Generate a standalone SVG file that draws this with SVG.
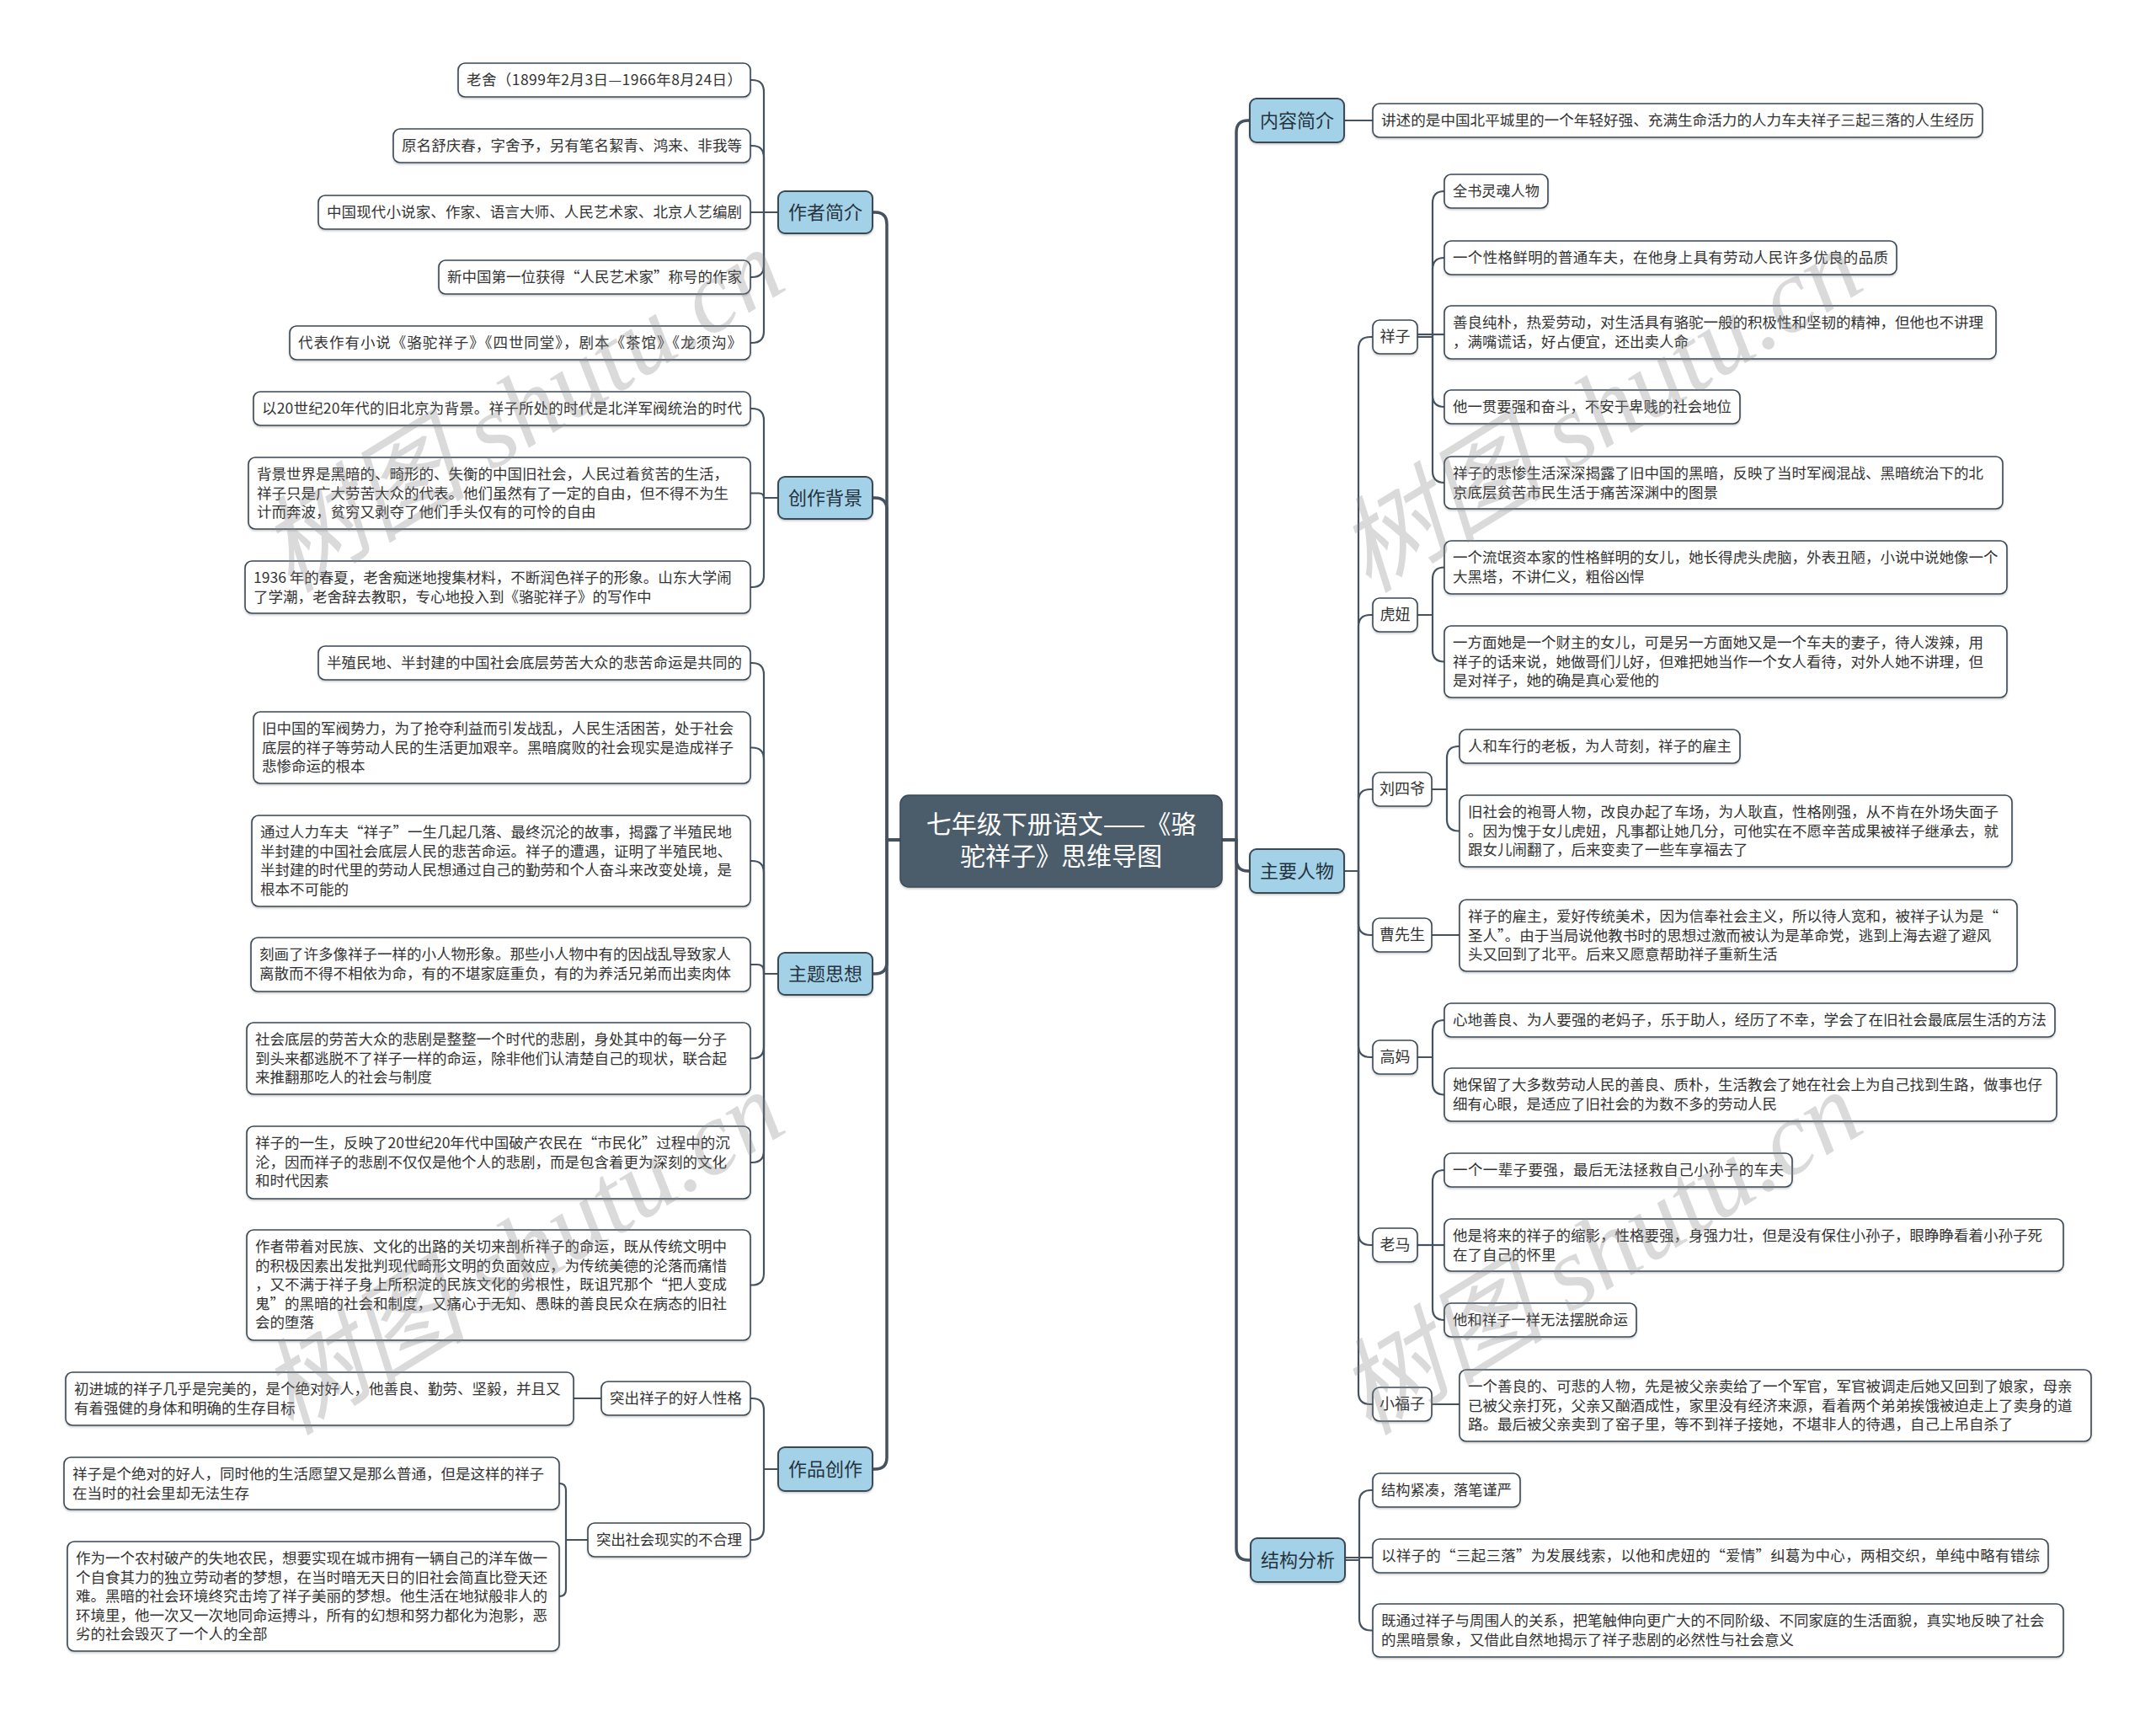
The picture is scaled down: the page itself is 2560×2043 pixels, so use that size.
<svg xmlns="http://www.w3.org/2000/svg" width="2560" height="2043" viewBox="0 0 2560 2043">
<style>
.box{fill:#fff;stroke:#3b4855;stroke-width:1.6;filter:url(#sh)}
.l1{fill:#a3d2e8;stroke:#3b4855;stroke-width:2;filter:url(#sh)}
.root{fill:#4c5c6b;stroke:#3b4855;stroke-width:1.5;filter:url(#sh)}
.t{font-family:'Noto Sans CJK SC','Noto Sans',sans-serif;font-size:17.5px;fill:#333}
.t1{font-family:'Noto Sans CJK SC','Noto Sans',sans-serif;font-size:22px;fill:#26323d;text-anchor:middle}
.t2{font-family:'Noto Sans CJK SC','Noto Sans',sans-serif;font-size:18px;fill:#333;text-anchor:middle}
.tr{font-family:'Noto Sans CJK SC','Noto Sans',sans-serif;font-size:30px;fill:#fff;text-anchor:middle}
.c{fill:none;stroke:#45525f;stroke-width:2.2;stroke-linejoin:round}
.c0{fill:none;stroke:#45525f;stroke-width:3.5;stroke-linejoin:round}
.wm{font-family:'Liberation Serif','Noto Sans CJK SC',serif;font-style:italic;font-size:124px;fill:#888;opacity:0.3}
</style>
<defs>
<filter id="sh" x="-5%" y="-20%" width="110%" height="150%">
<feDropShadow dx="0" dy="1.5" stdDeviation="1" flood-color="#000" flood-opacity="0.22"/>
</filter>
</defs>
<rect width="2560" height="2043" fill="#fff"/>
<g id="connectors">
<path class="c0" d="M1069 997 H1053 V266 Q1053 252 1039 252 H1036"/>
<path class="c0" d="M1069 997 H1053 V605 Q1053 591 1039 591 H1036"/>
<path class="c0" d="M1069 997 H1053 V1142 Q1053 1156 1039 1156 H1036"/>
<path class="c0" d="M1069 997 H1053 V1730 Q1053 1744 1039 1744 H1036"/>
<path class="c0" d="M1451 997 H1468 V157 Q1468 143 1482 143 H1484"/>
<path class="c0" d="M1451 997 H1468 V1020 Q1468 1034 1482 1034 H1484"/>
<path class="c0" d="M1451 997 H1468 V1838 Q1468 1852 1482 1852 H1485"/>
<path class="c" d="M924 252 H907 V109 Q907 95 893 95 H891"/>
<path class="c" d="M924 252 H907 V187 Q907 173 893 173 H891"/>
<path class="c" d="M924 252 H891"/>
<path class="c" d="M924 252 H907 V315 Q907 329 893 329 H891"/>
<path class="c" d="M924 252 H907 V393 Q907 407 893 407 H891"/>
<path class="c" d="M924 591 H907 V499 Q907 485 893 485 H891"/>
<path class="c" d="M924 591 H907 Q907 585.5 901 585.5 H891"/>
<path class="c" d="M924 591 H907 V683 Q907 697 893 697 H891"/>
<path class="c" d="M924 1156 H907 V801 Q907 787 893 787 H891"/>
<path class="c" d="M924 1156 H907 V901.5 Q907 887.5 893 887.5 H891"/>
<path class="c" d="M924 1156 H907 V1036 Q907 1022 893 1022 H891"/>
<path class="c" d="M924 1156 H907 V1153 Q907 1145 899 1145 H891"/>
<path class="c" d="M924 1156 H907 V1242.5 Q907 1256.5 893 1256.5 H891"/>
<path class="c" d="M924 1156 H907 V1366 Q907 1380 893 1380 H891"/>
<path class="c" d="M924 1156 H907 V1511.5 Q907 1525.5 893 1525.5 H891"/>
<path class="c" d="M924 1744 H907 V1674 Q907 1660 893 1660 H890"/>
<path class="c" d="M924 1744 H907 V1814 Q907 1828 893 1828 H890"/>
<path class="c" d="M714 1660 H681"/>
<path class="c" d="M698 1828 H672 V1769 Q672 1761 664 1761"/>
<path class="c" d="M698 1828 H672 V1887 Q672 1895 664 1895"/>
<path class="c" d="M1596 143 H1630"/>
<path class="c" d="M1596 1034 H1613 V414 Q1613 400 1627 400 H1630"/>
<path class="c" d="M1596 1034 H1613 V744 Q1613 730 1627 730 H1630"/>
<path class="c" d="M1596 1034 H1613 V951 Q1613 937 1627 937 H1630"/>
<path class="c" d="M1596 1034 H1613 V1096 Q1613 1110 1627 1110 H1630"/>
<path class="c" d="M1596 1034 H1613 V1241 Q1613 1255 1627 1255 H1630"/>
<path class="c" d="M1596 1034 H1613 V1464 Q1613 1478 1627 1478 H1630"/>
<path class="c" d="M1596 1034 H1613 V1653 Q1613 1667 1627 1667 H1630"/>
<path class="c" d="M1683 400 H1701 V241 Q1701 227 1715 227"/>
<path class="c" d="M1683 400 H1701 V320 Q1701 306 1715 306"/>
<path class="c" d="M1683 397 H1715"/>
<path class="c" d="M1683 400 H1701 V469 Q1701 483 1715 483"/>
<path class="c" d="M1683 400 H1701 V559 Q1701 573 1715 573"/>
<path class="c" d="M1683 730 H1701 V687.5 Q1701 673.5 1715 673.5"/>
<path class="c" d="M1683 730 H1701 V771.5 Q1701 785.5 1715 785.5"/>
<path class="c" d="M1700 937 H1718 V900 Q1718 886 1732 886 H1733"/>
<path class="c" d="M1700 937 H1718 V972.5 Q1718 986.5 1732 986.5 H1733"/>
<path class="c" d="M1700 1110 H1733"/>
<path class="c" d="M1683 1255 H1701 V1225 Q1701 1211 1715 1211"/>
<path class="c" d="M1683 1255 H1701 V1285.5 Q1701 1299.5 1715 1299.5"/>
<path class="c" d="M1683 1478 H1701 V1403 Q1701 1389 1715 1389"/>
<path class="c" d="M1683 1478 H1715"/>
<path class="c" d="M1683 1478 H1701 V1553 Q1701 1567 1715 1567"/>
<path class="c" d="M1700 1667 H1733"/>
<path class="c" d="M1597 1852 H1614 V1783 Q1614 1769 1628 1769 H1630"/>
<path class="c" d="M1597 1849 H1630"/>
<path class="c" d="M1597 1852 H1614 V1921.5 Q1614 1935.5 1628 1935.5 H1630"/>
</g>

<g id="root">
<rect class="root" x="1069" y="944" width="382" height="109" rx="10"/>
<text class="tr" x="1260" y="989">七年级下册语文——《骆</text>
<text class="tr" x="1260" y="1027">驼祥子》思维导图</text>
</g>

<g id="n-author">
<rect class="l1" x="924" y="227" width="112" height="50" rx="8"/>
<text class="t1" x="980" y="260">作者简介</text>
</g>
<g id="a1"><rect class="box" x="544" y="75" width="347" height="40" rx="8"/><text class="t" x="554" y="101" textLength="327" lengthAdjust="spacing">老舍（1899年2月3日—1966年8月24日）</text></g>
<g id="a2"><rect class="box" x="467" y="153" width="424" height="40" rx="8"/><text class="t" x="477" y="179" textLength="404" lengthAdjust="spacing">原名舒庆春，字舍予，另有笔名絜青、鸿来、非我等</text></g>
<g id="a3"><rect class="box" x="378" y="232" width="513" height="40" rx="8"/><text class="t" x="388" y="258" textLength="493" lengthAdjust="spacing">中国现代小说家、作家、语言大师、人民艺术家、北京人艺编剧</text></g>
<g id="a4"><rect class="box" x="521" y="309" width="370" height="40" rx="8"/><text class="t" x="531" y="335" textLength="350" lengthAdjust="spacing">新中国第一位获得“人民艺术家”称号的作家</text></g>
<g id="a5"><rect class="box" x="344" y="387" width="547" height="40" rx="8"/><text class="t" x="354" y="413" textLength="527" lengthAdjust="spacing">代表作有小说《骆驼祥子》《四世同堂》，剧本《茶馆》《龙须沟》</text></g>

<g id="n-background">
<rect class="l1" x="924" y="566" width="112" height="50" rx="8"/>
<text class="t1" x="980" y="599">创作背景</text>
</g>
<g id="b1"><rect class="box" x="301" y="465" width="590" height="40" rx="8"/><text class="t" x="311" y="491" textLength="570" lengthAdjust="spacing">以20世纪20年代的旧北京为背景。祥子所处的时代是北洋军阀统治的时代</text></g>
<g id="b2"><rect class="box" x="295" y="543" width="596" height="85" rx="8"/><text class="t" x="305" y="569"><tspan x="305">背景世界是黑暗的、畸形的、失衡的中国旧社会，人民过着贫苦的生活，</tspan><tspan x="305" dy="22.5">祥子只是广大劳苦大众的代表。他们虽然有了一定的自由，但不得不为生</tspan><tspan x="305" dy="22.5">计而奔波，贫穷又剥夺了他们手头仅有的可怜的自由</tspan></text></g>
<g id="b3"><rect class="box" x="291" y="666" width="600" height="62" rx="8"/><text class="t" x="301" y="692"><tspan x="301">1936 年的春夏，老舍痴迷地搜集材料，不断润色祥子的形象。山东大学闹</tspan><tspan x="301" dy="22.5">了学潮，老舍辞去教职，专心地投入到《骆驼祥子》的写作中</tspan></text></g>

<g id="n-theme">
<rect class="l1" x="924" y="1131" width="112" height="50" rx="8"/>
<text class="t1" x="980" y="1164">主题思想</text>
</g>
<g id="c1"><rect class="box" x="378" y="767" width="513" height="40" rx="8"/><text class="t" x="388" y="793" textLength="493" lengthAdjust="spacing">半殖民地、半封建的中国社会底层劳苦大众的悲苦命运是共同的</text></g>
<g id="c2"><rect class="box" x="301" y="845" width="590" height="85" rx="8"/><text class="t" x="311" y="871"><tspan x="311">旧中国的军阀势力，为了抢夺利益而引发战乱，人民生活困苦，处于社会</tspan><tspan x="311" dy="22.5">底层的祥子等劳动人民的生活更加艰辛。黑暗腐败的社会现实是造成祥子</tspan><tspan x="311" dy="22.5">悲惨命运的根本</tspan></text></g>
<g id="c3"><rect class="box" x="299" y="968" width="592" height="108" rx="8"/><text class="t" x="309" y="994"><tspan x="309">通过人力车夫“祥子”一生几起几落、最终沉沦的故事，揭露了半殖民地</tspan><tspan x="309" dy="22.5">半封建的中国社会底层人民的悲苦命运。祥子的遭遇，证明了半殖民地、</tspan><tspan x="309" dy="22.5">半封建的时代里的劳动人民想通过自己的勤劳和个人奋斗来改变处境，是</tspan><tspan x="309" dy="22.5">根本不可能的</tspan></text></g>
<g id="c4"><rect class="box" x="298" y="1113" width="593" height="64" rx="8"/><text class="t" x="308" y="1139"><tspan x="308">刻画了许多像祥子一样的小人物形象。那些小人物中有的因战乱导致家人</tspan><tspan x="308" dy="22.5">离散而不得不相依为命，有的不堪家庭重负，有的为养活兄弟而出卖肉体</tspan></text></g>
<g id="c5"><rect class="box" x="293" y="1214" width="598" height="85" rx="8"/><text class="t" x="303" y="1240"><tspan x="303">社会底层的劳苦大众的悲剧是整整一个时代的悲剧，身处其中的每一分子</tspan><tspan x="303" dy="22.5">到头来都逃脱不了祥子一样的命运，除非他们认清楚自己的现状，联合起</tspan><tspan x="303" dy="22.5">来推翻那吃人的社会与制度</tspan></text></g>
<g id="c6"><rect class="box" x="293" y="1337" width="598" height="86" rx="8"/><text class="t" x="303" y="1363"><tspan x="303">祥子的一生，反映了20世纪20年代中国破产农民在“市民化”过程中的沉</tspan><tspan x="303" dy="22.5">沦，因而祥子的悲剧不仅仅是他个人的悲剧，而是包含着更为深刻的文化</tspan><tspan x="303" dy="22.5">和时代因素</tspan></text></g>
<g id="c7"><rect class="box" x="293" y="1460" width="598" height="131" rx="8"/><text class="t" x="303" y="1486"><tspan x="303">作者带着对民族、文化的出路的关切来剖析祥子的命运，既从传统文明中</tspan><tspan x="303" dy="22.5">的积极因素出发批判现代畸形文明的负面效应，为传统美德的沦落而痛惜</tspan><tspan x="303" dy="22.5">，又不满于祥子身上所积淀的民族文化的劣根性，既诅咒那个“把人变成</tspan><tspan x="303" dy="22.5">鬼”的黑暗的社会和制度，又痛心于无知、愚昧的善良民众在病态的旧社</tspan><tspan x="303" dy="22.5">会的堕落</tspan></text></g>

<g id="n-work">
<rect class="l1" x="924" y="1718" width="112" height="52" rx="8"/>
<text class="t1" x="980" y="1752">作品创作</text>
</g>
<g id="d1"><rect class="box" x="714" y="1640" width="177" height="40" rx="8"/><text class="t" x="724" y="1666" textLength="157" lengthAdjust="spacing">突出祥子的好人性格</text></g>
<g id="d1a"><rect class="box" x="78" y="1629" width="603" height="63" rx="8"/><text class="t" x="88" y="1655"><tspan x="88">初进城的祥子几乎是完美的，是个绝对好人，他善良、勤劳、坚毅，并且又</tspan><tspan x="88" dy="22.5">有着强健的身体和明确的生存目标</tspan></text></g>
<g id="d2"><rect class="box" x="698" y="1808" width="193" height="40" rx="8"/><text class="t" x="708" y="1834" textLength="173" lengthAdjust="spacing">突出社会现实的不合理</text></g>
<g id="d2a"><rect class="box" x="76" y="1730" width="588" height="62" rx="8"/><text class="t" x="86" y="1756"><tspan x="86">祥子是个绝对的好人，同时他的生活愿望又是那么普通，但是这样的祥子</tspan><tspan x="86" dy="22.5">在当时的社会里却无法生存</tspan></text></g>
<g id="d2b"><rect class="box" x="80" y="1830" width="584" height="130" rx="8"/><text class="t" x="90" y="1856"><tspan x="90">作为一个农村破产的失地农民，想要实现在城市拥有一辆自己的洋车做一</tspan><tspan x="90" dy="22.5">个自食其力的独立劳动者的梦想，在当时暗无天日的旧社会简直比登天还</tspan><tspan x="90" dy="22.5">难。黑暗的社会环境终究击垮了祥子美丽的梦想。他生活在地狱般非人的</tspan><tspan x="90" dy="22.5">环境里，他一次又一次地同命运搏斗，所有的幻想和努力都化为泡影，恶</tspan><tspan x="90" dy="22.5">劣的社会毁灭了一个人的全部</tspan></text></g>

<g id="n-summary">
<rect class="l1" x="1484" y="117" width="112" height="52" rx="8"/>
<text class="t1" x="1540" y="151">内容简介</text>
</g>
<g id="e1"><rect class="box" x="1630" y="123" width="724" height="40" rx="8"/><text class="t" x="1640" y="149" textLength="704" lengthAdjust="spacingAndGlyphs">讲述的是中国北平城里的一个年轻好强、充满生命活力的人力车夫祥子三起三落的人生经历</text></g>

<g id="n-people">
<rect class="l1" x="1484" y="1008" width="112" height="52" rx="8"/>
<text class="t1" x="1540" y="1042">主要人物</text>
</g>
<g id="p-xz"><rect class="box" x="1630" y="380" width="53" height="40" rx="8"/><text class="t2" x="1656.5" y="406">祥子</text></g>
<g id="x1"><rect class="box" x="1715" y="207" width="123" height="40" rx="8"/><text class="t" x="1725" y="233" textLength="103" lengthAdjust="spacingAndGlyphs">全书灵魂人物</text></g>
<g id="x2"><rect class="box" x="1715" y="286" width="537" height="40" rx="8"/><text class="t" x="1725" y="312" textLength="517" lengthAdjust="spacing">一个性格鲜明的普通车夫，在他身上具有劳动人民许多优良的品质</text></g>
<g id="x3"><rect class="box" x="1715" y="363" width="655" height="63" rx="8"/><text class="t" x="1725" y="389"><tspan x="1725">善良纯朴，热爱劳动，对生活具有骆驼一般的积极性和坚韧的精神，但他也不讲理</tspan><tspan x="1725" dy="22.5">，满嘴谎话，好占便宜，还出卖人命</tspan></text></g>
<g id="x4"><rect class="box" x="1715" y="463" width="351" height="40" rx="8"/><text class="t" x="1725" y="489" textLength="331" lengthAdjust="spacingAndGlyphs">他一贯要强和奋斗，不安于卑贱的社会地位</text></g>
<g id="x5"><rect class="box" x="1715" y="542" width="663" height="62" rx="8"/><text class="t" x="1725" y="568"><tspan x="1725">祥子的悲惨生活深深揭露了旧中国的黑暗，反映了当时军阀混战、黑暗统治下的北</tspan><tspan x="1725" dy="22.5">京底层贫苦市民生活于痛苦深渊中的图景</tspan></text></g>

<g id="p-hn"><rect class="box" x="1630" y="710" width="53" height="40" rx="8"/><text class="t2" x="1656.5" y="736">虎妞</text></g>
<g id="h1"><rect class="box" x="1715" y="642" width="668" height="63" rx="8"/><text class="t" x="1725" y="668"><tspan x="1725">一个流氓资本家的性格鲜明的女儿，她长得虎头虎脑，外表丑陋，小说中说她像一个</tspan><tspan x="1725" dy="22.5">大黑塔，不讲仁义，粗俗凶悍</tspan></text></g>
<g id="h2"><rect class="box" x="1715" y="743" width="668" height="85" rx="8"/><text class="t" x="1725" y="769"><tspan x="1725">一方面她是一个财主的女儿，可是另一方面她又是一个车夫的妻子，待人泼辣，用</tspan><tspan x="1725" dy="22.5">祥子的话来说，她做哥们儿好，但难把她当作一个女人看待，对外人她不讲理，但</tspan><tspan x="1725" dy="22.5">是对祥子，她的确是真心爱他的</tspan></text></g>

<g id="p-ls"><rect class="box" x="1630" y="917" width="70" height="40" rx="8"/><text class="t2" x="1665" y="943">刘四爷</text></g>
<g id="l1"><rect class="box" x="1733" y="866" width="333" height="40" rx="8"/><text class="t" x="1743" y="892" textLength="313" lengthAdjust="spacingAndGlyphs">人和车行的老板，为人苛刻，祥子的雇主</text></g>
<g id="l2"><rect class="box" x="1733" y="944" width="656" height="85" rx="8"/><text class="t" x="1743" y="970"><tspan x="1743">旧社会的袍哥人物，改良办起了车场，为人耿直，性格刚强，从不肯在外场失面子</tspan><tspan x="1743" dy="22.5">。因为愧于女儿虎妞，凡事都让她几分，可他实在不愿辛苦成果被祥子继承去，就</tspan><tspan x="1743" dy="22.5">跟女儿闹翻了，后来变卖了一些车享福去了</tspan></text></g>

<g id="p-cao"><rect class="box" x="1630" y="1090" width="70" height="40" rx="8"/><text class="t2" x="1665" y="1116">曹先生</text></g>
<g id="k1"><rect class="box" x="1733" y="1068" width="662" height="85" rx="8"/><text class="t" x="1743" y="1094"><tspan x="1743">祥子的雇主，爱好传统美术，因为信奉社会主义，所以待人宽和，被祥子认为是“</tspan><tspan x="1743" dy="22.5">圣人”。由于当局说他教书时的思想过激而被认为是革命党，逃到上海去避了避风</tspan><tspan x="1743" dy="22.5">头又回到了北平。后来又愿意帮助祥子重新生活</tspan></text></g>

<g id="p-gm"><rect class="box" x="1630" y="1235" width="53" height="40" rx="8"/><text class="t2" x="1656.5" y="1261">高妈</text></g>
<g id="g1"><rect class="box" x="1715" y="1191" width="725" height="40" rx="8"/><text class="t" x="1725" y="1217" textLength="705" lengthAdjust="spacingAndGlyphs">心地善良、为人要强的老妈子，乐于助人，经历了不幸，学会了在旧社会最底层生活的方法</text></g>
<g id="g2"><rect class="box" x="1715" y="1268" width="727" height="63" rx="8"/><text class="t" x="1725" y="1294"><tspan x="1725">她保留了大多数劳动人民的善良、质朴，生活教会了她在社会上为自己找到生路，做事也仔</tspan><tspan x="1725" dy="22.5">细有心眼，是适应了旧社会的为数不多的劳动人民</tspan></text></g>

<g id="p-lm"><rect class="box" x="1630" y="1458" width="53" height="40" rx="8"/><text class="t2" x="1656.5" y="1484">老马</text></g>
<g id="m1"><rect class="box" x="1715" y="1369" width="413" height="40" rx="8"/><text class="t" x="1725" y="1395" textLength="393" lengthAdjust="spacing">一个一辈子要强，最后无法拯救自己小孙子的车夫</text></g>
<g id="m2"><rect class="box" x="1715" y="1447" width="735" height="62" rx="8"/><text class="t" x="1725" y="1473"><tspan x="1725">他是将来的祥子的缩影，性格要强，身强力壮，但是没有保住小孙子，眼睁睁看着小孙子死</tspan><tspan x="1725" dy="22.5">在了自己的怀里</tspan></text></g>
<g id="m3"><rect class="box" x="1715" y="1547" width="228" height="40" rx="8"/><text class="t" x="1725" y="1573" textLength="208" lengthAdjust="spacingAndGlyphs">他和祥子一样无法摆脱命运</text></g>

<g id="p-xfz"><rect class="box" x="1630" y="1647" width="70" height="40" rx="8"/><text class="t2" x="1665" y="1673">小福子</text></g>
<g id="f1"><rect class="box" x="1733" y="1626" width="750" height="85" rx="8"/><text class="t" x="1743" y="1652"><tspan x="1743">一个善良的、可悲的人物，先是被父亲卖给了一个军官，军官被调走后她又回到了娘家，母亲</tspan><tspan x="1743" dy="22.5">已被父亲打死，父亲又酗酒成性，家里没有经济来源，看着两个弟弟挨饿被迫走上了卖身的道</tspan><tspan x="1743" dy="22.5">路。最后被父亲卖到了窑子里，等不到祥子接她，不堪非人的待遇，自己上吊自杀了</tspan></text></g>

<g id="n-structure">
<rect class="l1" x="1485" y="1826" width="112" height="52" rx="8"/>
<text class="t1" x="1541" y="1860">结构分析</text>
</g>
<g id="s1"><rect class="box" x="1630" y="1749" width="175" height="40" rx="8"/><text class="t" x="1640" y="1775" textLength="155" lengthAdjust="spacingAndGlyphs">结构紧凑，落笔谨严</text></g>
<g id="s2"><rect class="box" x="1630" y="1827" width="802" height="40" rx="8"/><text class="t" x="1640" y="1853" textLength="782" lengthAdjust="spacing">以祥子的“三起三落”为发展线索，以他和虎妞的“爱情”纠葛为中心，两相交织，单纯中略有错综</text></g>
<g id="s3"><rect class="box" x="1630" y="1904" width="820" height="63" rx="8"/><text class="t" x="1640" y="1930"><tspan x="1640">既通过祥子与周围人的关系，把笔触伸向更广大的不同阶级、不同家庭的生活面貌，真实地反映了社会</tspan><tspan x="1640" dy="22.5">的黑暗景象，又借此自然地揭示了祥子悲剧的必然性与社会意义</tspan></text></g>

<g id="watermarks">
<text class="wm" transform="translate(345 705) rotate(-31.5)">树图 shutu.cn</text>
<text class="wm" transform="translate(345 1705) rotate(-31.5)">树图 shutu.cn</text>
<text class="wm" transform="translate(1625 705) rotate(-31.5)">树图 shutu.cn</text>
<text class="wm" transform="translate(1625 1705) rotate(-31.5)">树图 shutu.cn</text>
</g>
</svg>
